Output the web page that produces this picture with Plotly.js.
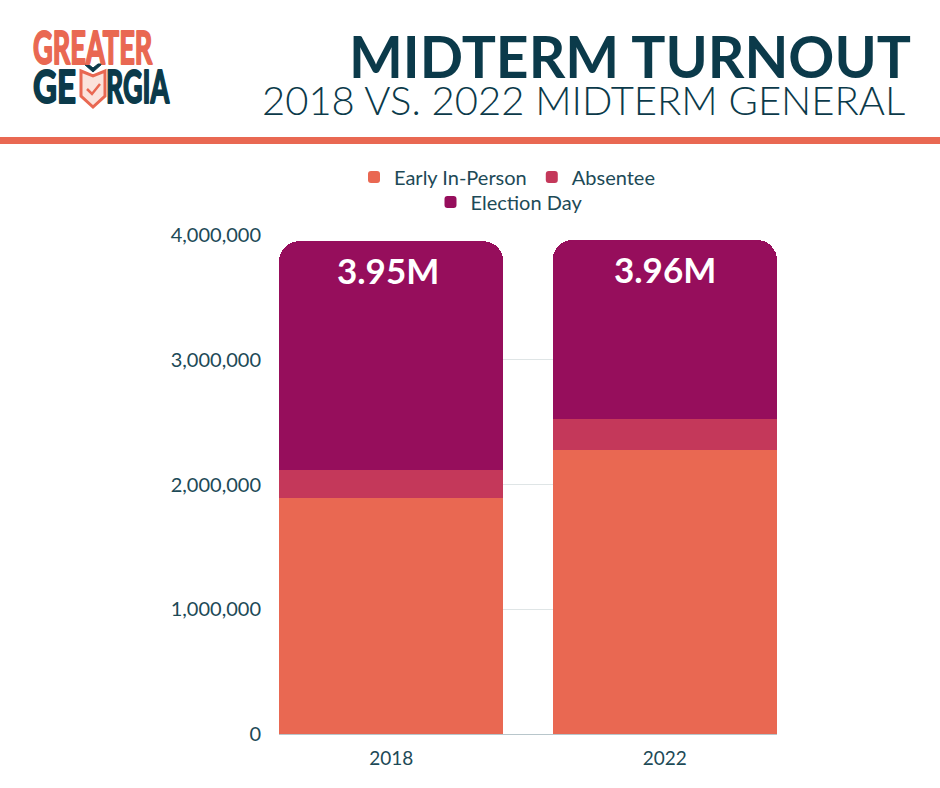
<!DOCTYPE html>
<html>
<head>
<meta charset="utf-8">
<script src="https://cdn.plot.ly/plotly-3.0.1.min.js"></script>
<style>
html,body{margin:0;padding:0;background:#fff;}
#chart{width:940px;height:788px;}
</style>
</head>
<body>
<div id="chart"></div>
<script>
// ---- data ----
const years = ['2018', '2022'];
const seriesNames = ['Early In-Person', 'Absentee', 'Election Day'];
const earlyInPerson = [1894000, 2277000];
const absentee = [222000, 250000];
const electionDay = [1834000, 1433000];
const totalLabels = ['3.95M', '3.96M'];
const yTickVals = [0, 1000000, 2000000, 3000000, 4000000];
const yTickText = ['0', '1,000,000', '2,000,000', '3,000,000', '4,000,000'];
const titleText = 'MIDTERM TURNOUT';
const subtitleText = '2018 VS. 2022 MIDTERM GENERAL';
const logoTop = 'GREATER';
const logoBottomLeft = 'GE';
const logoBottomRight = 'RGIA';

// ---- style ----
const colors = ['#E96852', '#C4385A', '#960E5C'];
const dark = '#0B3A4A';
const tickColor = '#1D4A57';
const FONT = 'Lato, "Open Sans", sans-serif';

// plot-area geometry in page px
const W = 940, H = 788;
const L = 279, R = 777, T = 235, B = 734;
const px = x => (x - L) / (R - L);
const py = y => (B - y) / (B - T);

const totals = years.map((_, i) => earlyInPerson[i] + absentee[i] + electionDay[i]);

const traces = [earlyInPerson, absentee, electionDay].map((vals, k) => ({
  type: 'bar',
  x: years,
  y: vals,
  name: seriesNames[k],
  marker: { color: colors[k], line: { width: 0 } },
  legend: k === 2 ? 'legend2' : 'legend',
  hoverinfo: 'skip'
}));

const annotations = [];
years.forEach((yr, i) => {
  annotations.push({
    x: i, y: totals[i], xref: 'x', yref: 'y',
    text: '<b>' + totalLabels[i] + '</b>',
    showarrow: false, yanchor: 'top', yshift: -6, xshift: i === 0 ? -3 : 0,
    font: { family: FONT, size: 35, color: '#FFFFFF' }
  });
});
// titles
annotations.push({
  xref: 'paper', yref: 'paper', x: px(913), y: py(56),
  xanchor: 'right', yanchor: 'middle', showarrow: false,
  text: '<b>' + titleText + '</b>',
  font: { family: FONT, size: 57, color: dark, weight: 900 }
});
annotations.push({
  xref: 'paper', yref: 'paper', x: px(907), y: py(100),
  xanchor: 'right', yanchor: 'middle', showarrow: false,
  text: subtitleText,
  font: { family: 'Lato Light, Lato, sans-serif', size: 40, color: dark, weight: 300 }
});
// logo text (condensed and stretched afterwards)
const logoFont = c => ({ family: FONT, size: 36, color: c });
const logoStart = annotations.length;
annotations.push({
  xref: 'paper', yref: 'paper', x: px(31), y: py(47),
  xanchor: 'left', yanchor: 'middle', showarrow: false,
  text: '<b>' + logoTop + '</b>', font: logoFont('#E96852')
});
annotations.push({
  xref: 'paper', yref: 'paper', x: px(31), y: py(86),
  xanchor: 'left', yanchor: 'middle', showarrow: false,
  text: '<b>' + logoBottomLeft + '</b>', font: logoFont(dark)
});
annotations.push({
  xref: 'paper', yref: 'paper', x: px(104), y: py(86),
  xanchor: 'left', yanchor: 'middle', showarrow: false,
  text: '<b>' + logoBottomRight + '</b>', font: logoFont(dark)
});
const logoWidths = [120, 43, 64];
const logoColors = ['#E96852', dark, dark];
const logoStretchY = 1.28;

function pathFromPx(pts, close) {
  return pts.map((p, i) => (i ? 'L' : 'M') + px(p[0]).toFixed(5) + ',' + py(p[1]).toFixed(5)).join(' ') + (close ? ' Z' : '');
}

const shapes = [
  // orange divider band
  { type: 'rect', xref: 'paper', yref: 'paper', x0: px(-5), x1: px(945), y0: py(144), y1: py(137),
    fillcolor: '#E96852', line: { width: 0 }, layer: 'above' },
  // shield
  { type: 'path', xref: 'paper', yref: 'paper',
    path: pathFromPx([[81,71],[93,76],[105,71],[105,96],[93,107],[81,96]], true),
    fillcolor: '#FBE3DC', line: { color: '#E96852', width: 3 } },
  // leaves
  { type: 'path', xref: 'paper', yref: 'paper',
    path: pathFromPx([[84,64],[93,72],[102,64],[98,64],[93,68],[88,64]], true),
    fillcolor: dark, line: { color: dark, width: 1 } },
  // check
  { type: 'path', xref: 'paper', yref: 'paper',
    path: pathFromPx([[87,89],[92,94],[100,84]], false),
    line: { color: '#E96852', width: 2.5 } }
];

const legendCommon = {
  orientation: 'h', xanchor: 'center', yanchor: 'middle', traceorder: 'normal',
  font: { family: FONT, size: 20, color: tickColor }, bgcolor: 'rgba(0,0,0,0)'
};

const layout = {
  width: W, height: H,
  paper_bgcolor: '#FFFFFF', plot_bgcolor: '#FFFFFF',
  margin: { l: L, r: W - R, t: T, b: H - B, pad: 0 },
  barmode: 'stack',
  bargap: 0.18,
  barcornerradius: 20,
  font: { family: FONT, color: tickColor },
  showlegend: true,
  legend: Object.assign({}, legendCommon, { x: px(507), y: py(177) }),
  legend2: Object.assign({}, legendCommon, { x: px(509), y: py(202) }),
  xaxis: {
    type: 'category', range: [-0.41, 1.41], fixedrange: true,
    showline: true, linecolor: '#B8C6CB', linewidth: 1,
    showgrid: false, ticks: '', ticklabelstandoff: 7,
    tickfont: { family: FONT, size: 19, color: tickColor }
  },
  yaxis: {
    range: [0, 4000000], fixedrange: true,
    tickmode: 'array', tickvals: yTickVals, ticktext: yTickText,
    showgrid: true, gridcolor: '#DFE5E6', gridwidth: 1, zeroline: false,
    ticks: '', ticklabelstandoff: 17,
    tickfont: { family: FONT, size: 20, color: tickColor }
  },
  annotations: annotations,
  shapes: shapes
};

Plotly.newPlot('chart', traces, layout, { displayModeBar: false, staticPlot: true }).then(() => {
  const anns = document.querySelectorAll('#chart .annotation');
  logoWidths.forEach((w, k) => {
    const g = anns[logoStart + k];
    if (!g) return;
    const txt = g.querySelector('text');
    if (!txt) return;
    const bb = txt.getBBox();
    const sx = w / bb.width;
    const cy = bb.y + bb.height * 0.55;
    txt.setAttribute('transform',
      'translate(' + bb.x + ',' + cy + ') scale(' + sx.toFixed(4) + ',' + logoStretchY + ') translate(' + (-bb.x) + ',' + (-cy) + ')');
    txt.style.stroke = logoColors[k];
    txt.style.strokeWidth = '1.6px';
    txt.style.strokeLinejoin = 'round';
  });
});
</script>
</body>
</html>
